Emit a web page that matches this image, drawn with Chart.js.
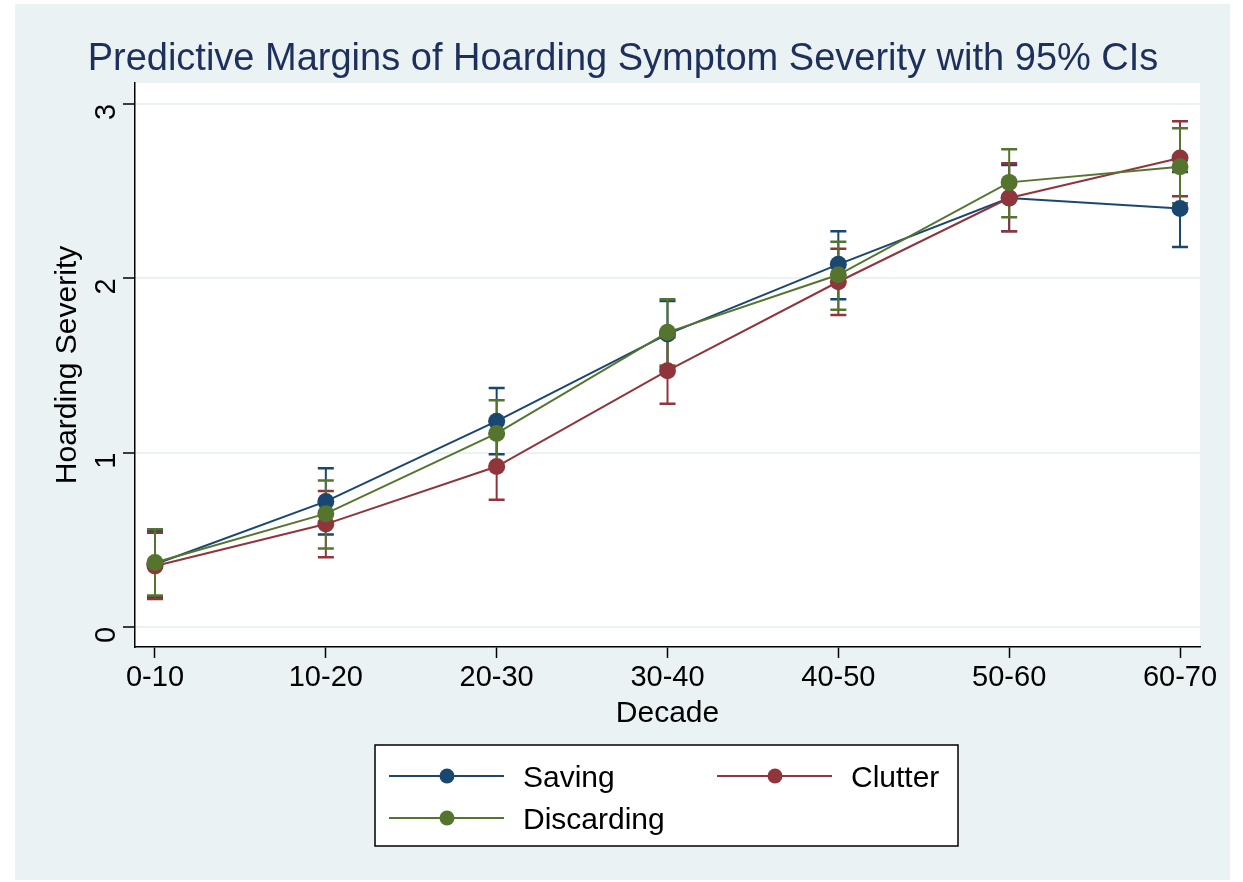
<!DOCTYPE html>
<html>
<head>
<meta charset="utf-8">
<script src="https://cdn.jsdelivr.net/npm/chart.js@4/dist/chart.umd.min.js"></script>
<style>
  html, body { margin: 0; padding: 0; background: #fff; }
  #wrap { width: 1243px; height: 882px; }
</style>
</head>
<body>
<div id="wrap"><canvas id="chart_margins"></canvas></div>
<script>
var decades = ['0-10', '10-20', '20-30', '30-40', '40-50', '50-60', '60-70'];
var yTicks = [0, 1, 2, 3];

var saving      = [0.36, 0.72, 1.18, 1.68, 2.08, 2.46, 2.40];
var savingLo    = [0.17, 0.53, 0.99, 1.49, 1.88, 2.27, 2.18];
var savingHi    = [0.55, 0.91, 1.37, 1.87, 2.27, 2.65, 2.61];

var clutter     = [0.35, 0.59, 0.92, 1.47, 1.98, 2.46, 2.69];
var clutterLo   = [0.16, 0.40, 0.73, 1.28, 1.79, 2.27, 2.47];
var clutterHi   = [0.54, 0.78, 1.11, 1.66, 2.17, 2.66, 2.90];

var discarding   = [0.37, 0.65, 1.11, 1.69, 2.02, 2.55, 2.64];
var discardingLo = [0.18, 0.45, 0.92, 1.50, 1.82, 2.35, 2.43];
var discardingHi = [0.56, 0.84, 1.30, 1.88, 2.21, 2.74, 2.86];

var NAVY = '#1a476f', MAROON = '#90353b', GREEN = '#55752f';
var BG = '#eaf2f3', FONT = '"Liberation Sans", Arial, Helvetica, sans-serif';

function pts(arr) {
	return arr.map(function (v, i) { return { x: i, y: v }; });
}

function series(label, values, lo, hi, color, order) {
	return {
		label: label,
		data: pts(values),
		lo: lo,
		hi: hi,
		order: order,
		borderColor: color,
		backgroundColor: color,
		pointBackgroundColor: color,
		pointBorderColor: color,
		borderWidth: 2,
		pointRadius: 8.5,
		pointBorderWidth: 0,
		tension: 0
	};
}

// background, 95% CI caps, title, axis titles and legend box
var stataLook = {
	id: 'stataLook',
	beforeDraw: function (chart) {
		var ctx = chart.ctx, a = chart.chartArea;
		ctx.save();
		ctx.fillStyle = '#fff';
		ctx.fillRect(0, 0, chart.width, chart.height);
		ctx.fillStyle = BG;
		ctx.fillRect(15, 4, 1215, 876);
		ctx.fillStyle = '#fff';
		ctx.fillRect(a.left, a.top, a.right - a.left, a.bottom - a.top);
		ctx.restore();
	},
	beforeDatasetsDraw: function (chart) {
		var ctx = chart.ctx, xs = chart.scales.x, ys = chart.scales.y;
		ctx.save();
		chart.data.datasets.forEach(function (ds) {
			ctx.strokeStyle = ds.borderColor;
			for (var i = 0; i < ds.lo.length; i++) {
				var x = xs.getPixelForValue(i);
				var y1 = ys.getPixelForValue(ds.lo[i]);
				var y2 = ys.getPixelForValue(ds.hi[i]);
				ctx.lineWidth = 2;
				ctx.beginPath();
				ctx.moveTo(x, y1); ctx.lineTo(x, y2);
				ctx.stroke();
				ctx.lineWidth = 2.5;
				ctx.beginPath();
				ctx.moveTo(x - 8, y1); ctx.lineTo(x + 8, y1);
				ctx.moveTo(x - 8, y2); ctx.lineTo(x + 8, y2);
				ctx.stroke();
			}
		});
		ctx.restore();
	},
	afterDraw: function (chart) {
		var ctx = chart.ctx, a = chart.chartArea;
		ctx.save();
		// title
		ctx.fillStyle = '#1d2f5c';
		ctx.font = '38px ' + FONT;
		ctx.textAlign = 'center';
		ctx.textBaseline = 'alphabetic';
		ctx.fillText('Predictive Margins of Hoarding Symptom Severity with 95% CIs', 623, 70);

		// axis titles
		ctx.fillStyle = '#000';
		ctx.font = '30px ' + FONT;
		ctx.textBaseline = 'alphabetic';
		ctx.fillText('Decade', (a.left + a.right) / 2, 722);
		ctx.save();
		ctx.translate(76, 365);
		ctx.rotate(-Math.PI / 2);
		ctx.fillText('Hoarding Severity', 0, 0);
		ctx.restore();

		// legend
		ctx.fillStyle = '#fff';
		ctx.fillRect(375, 745, 583, 101);
		ctx.strokeStyle = '#000';
		ctx.lineWidth = 1.5;
		ctx.strokeRect(375, 745, 583, 101);
		var items = [
			{ ds: chart.data.datasets[0], x: 389, y: 776 },
			{ ds: chart.data.datasets[1], x: 717, y: 776 },
			{ ds: chart.data.datasets[2], x: 389, y: 818 }
		];
		items.forEach(function (it) {
			var c = it.ds.borderColor;
			ctx.strokeStyle = c;
			ctx.lineWidth = 2;
			ctx.beginPath();
			ctx.moveTo(it.x, it.y); ctx.lineTo(it.x + 115, it.y);
			ctx.stroke();
			ctx.fillStyle = c;
			ctx.beginPath();
			ctx.arc(it.x + 58, it.y, 7.5, 0, Math.PI * 2);
			ctx.fill();
			ctx.fillStyle = '#000';
			ctx.textAlign = 'left';
			ctx.fillText(it.ds.label, it.x + 134, it.y + 10.5);
		});
		ctx.restore();
	}
};

new Chart('chart_margins', {
	type: 'line',
	data: {
		datasets: [
			series('Saving', saving, savingLo, savingHi, NAVY, 3),
			series('Clutter', clutter, clutterLo, clutterHi, MAROON, 2),
			series('Discarding', discarding, discardingLo, discardingHi, GREEN, 1)
		]
	},
	options: {
		responsive: true,
		maintainAspectRatio: false,
		animation: false,
		layout: { padding: { top: 83, left: 15, right: 43, bottom: 0 } },
		scales: {
			x: {
				type: 'linear',
				min: -0.117,
				max: 6.117,
				afterBuildTicks: function (s) { s.ticks = decades.map(function (d, i) { return { value: i }; }); },
				afterFit: function (s) { s.height = 235; },
				ticks: {
					color: '#000',
					font: { family: FONT, size: 29 },
					padding: 3,
					maxRotation: 0,
					callback: function (v) { return decades[v]; }
				},
				grid: { drawOnChartArea: false, tickLength: 11, tickColor: '#000', tickWidth: 1.5 },
				border: { color: '#000', width: 1.5 }
			},
			y: {
				min: -0.115,
				max: 3.12,
				afterBuildTicks: function (s) { s.ticks = yTicks.map(function (v) { return { value: v }; }); },
				afterFit: function (s) { s.width = 120; },
				ticks: {
					color: '#000',
					font: { family: FONT, size: 29 },
					padding: 16,
					minRotation: 90,
					maxRotation: 90
				},
				grid: { color: BG, lineWidth: 2, tickLength: 12, tickColor: '#000', tickWidth: 1.5 },
				border: { color: '#000', width: 1.5 }
			}
		},
		plugins: {
			legend: { display: false },
			title: { display: false },
			tooltip: { enabled: false }
		}
	},
	plugins: [stataLook]
});
</script>
</body>
</html>
